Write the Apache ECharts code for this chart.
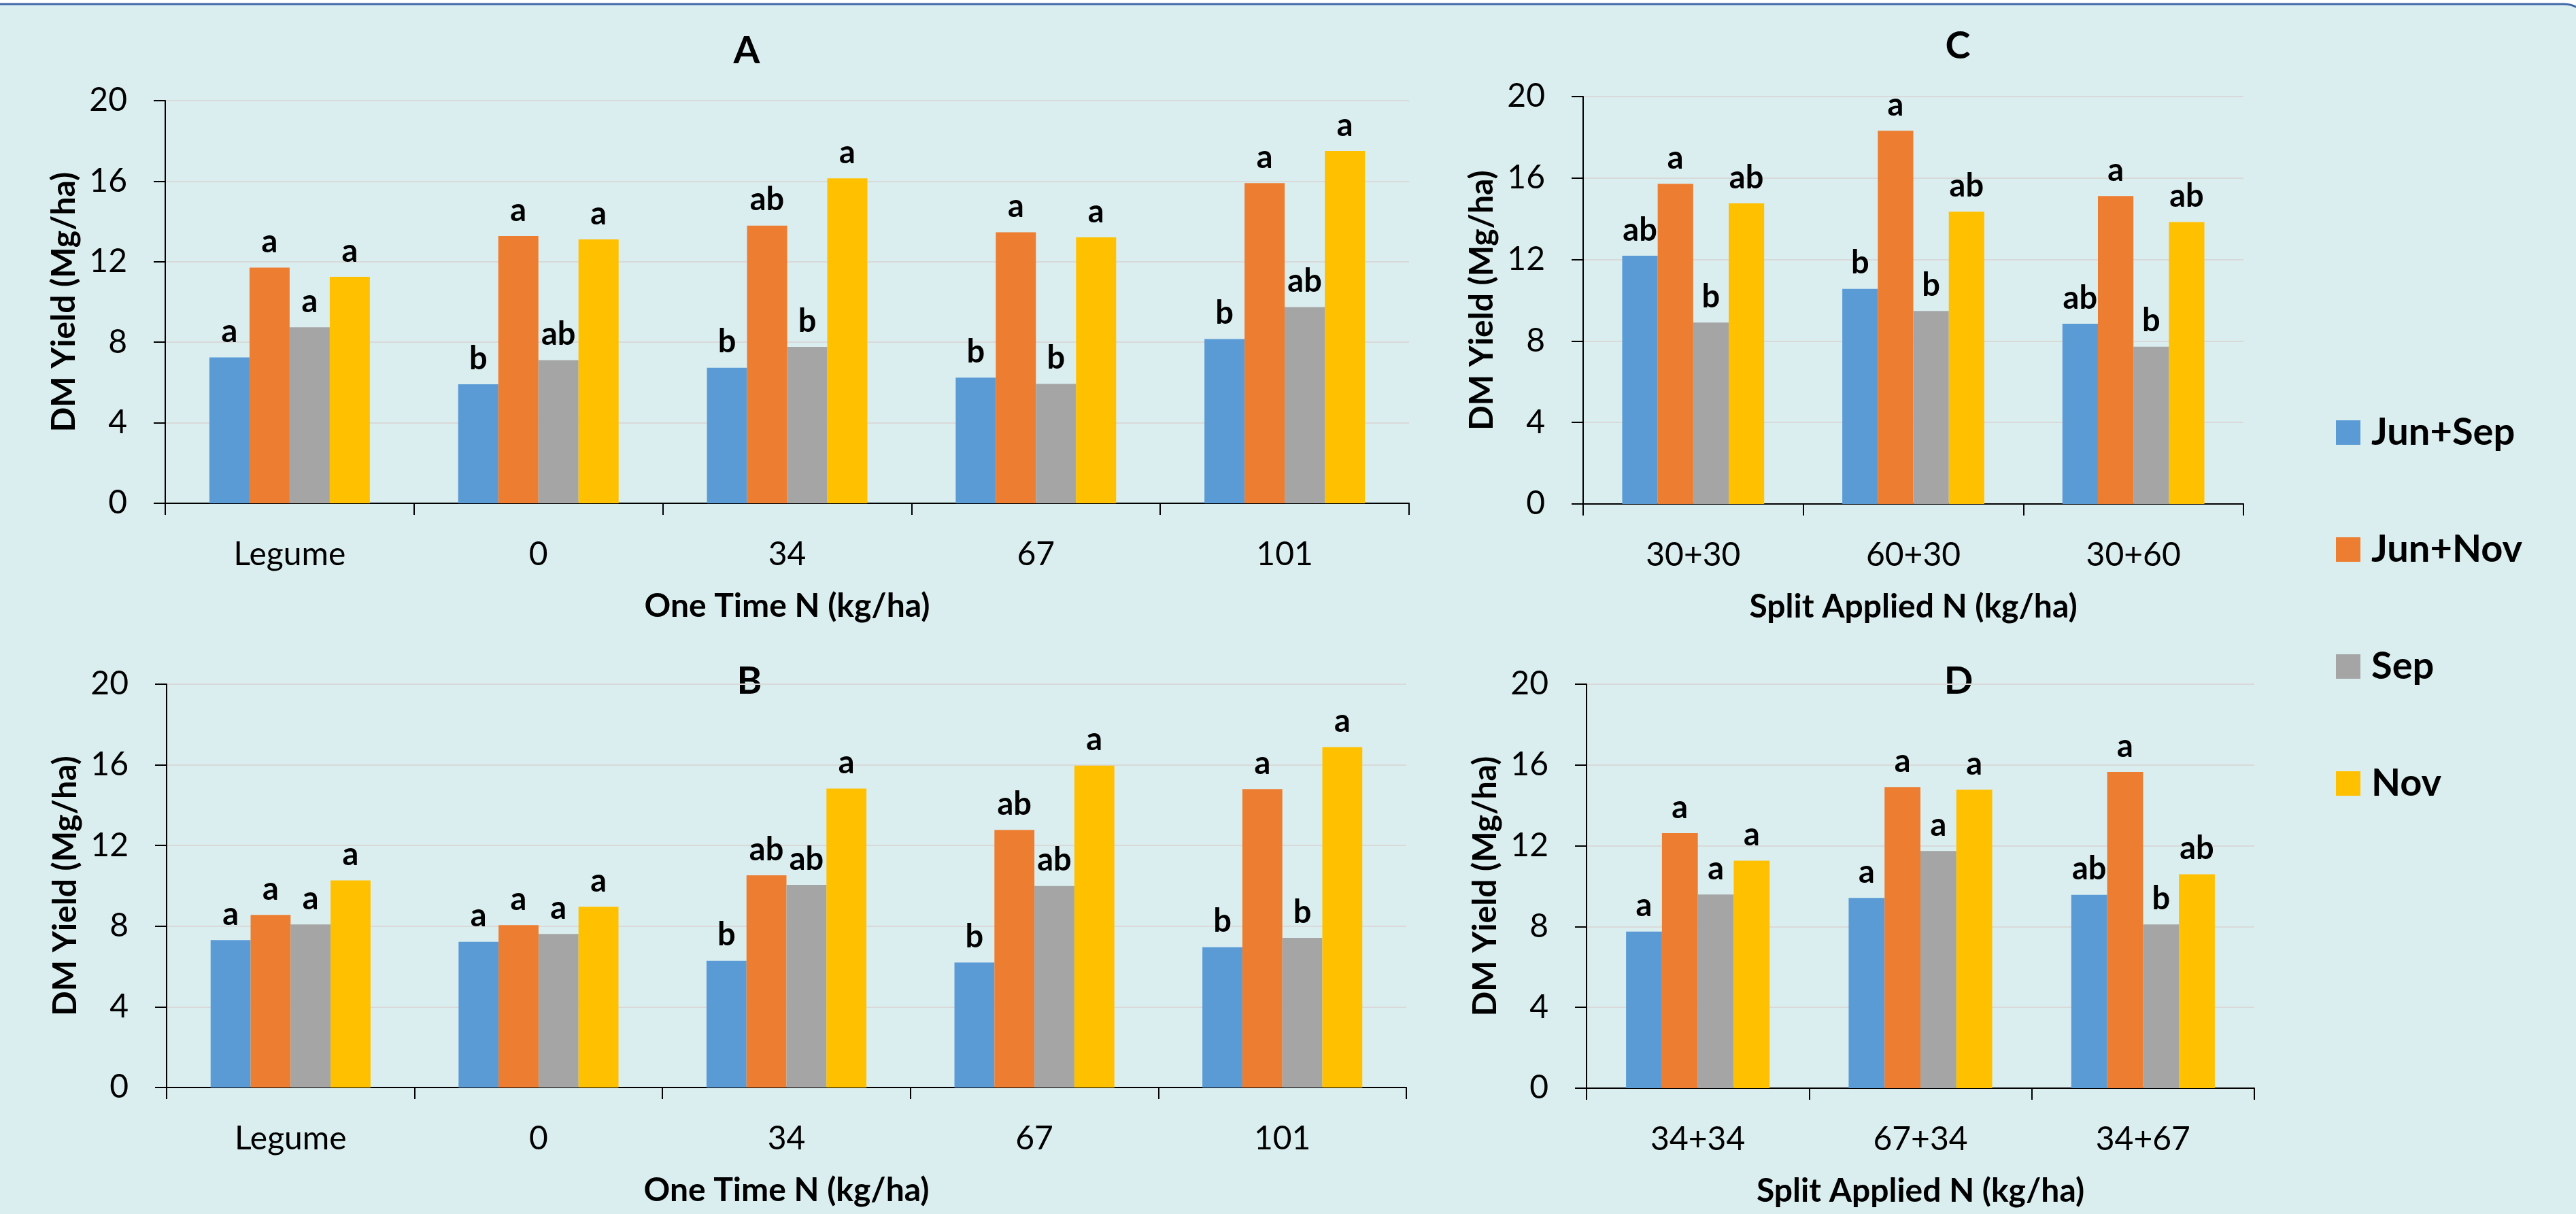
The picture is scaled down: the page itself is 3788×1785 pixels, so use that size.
<!DOCTYPE html>
<html>
<head>
<meta charset="utf-8">
<script src="https://cdn.jsdelivr.net/npm/echarts@6/dist/echarts.min.js"></script>
<style>
  html, body { margin: 0; padding: 0; background: #ffffff; }
  #chart { width: 3788px; height: 1785px; }
</style>
</head>
<body>
<div id="chart"></div>
<script>
// ---------- DATA ----------
const seriesNames = ['Jun+Sep', 'Jun+Nov', 'Sep', 'Nov'];
const seriesColors = ['#5B9BD5', '#ED7D31', '#A5A5A5', '#FFC000'];
const yTicks = [0, 4, 8, 12, 16, 20];

// Panel A : One Time N
const catA = ['Legume', '0', '34', '67', '101'];
const A_JunSep = [7.25, 5.91, 6.73, 6.24, 8.16];
const A_JunNov = [11.71, 13.28, 13.79, 13.46, 15.90];
const A_Sep    = [8.74, 7.11, 7.77, 5.93, 9.75];
const A_Nov    = [11.25, 13.11, 16.14, 13.21, 17.50];
const A_L_JunSep = ['a', 'b', 'b', 'b', 'b'];
const A_L_JunNov = ['a', 'a', 'ab', 'a', 'a'];
const A_L_Sep    = ['a', 'ab', 'b', 'b', 'ab'];
const A_L_Nov    = ['a', 'a', 'a', 'a', 'a'];

// Panel B : One Time N
const catB = ['Legume', '0', '34', '67', '101'];
const B_JunSep = [7.31, 7.23, 6.28, 6.20, 6.96];
const B_JunNov = [8.56, 8.05, 10.52, 12.77, 14.80];
const B_Sep    = [8.09, 7.61, 10.05, 9.99, 7.42];
const B_Nov    = [10.27, 8.96, 14.82, 15.96, 16.88];
const B_L_JunSep = ['a', 'a', 'b', 'b', 'b'];
const B_L_JunNov = ['a', 'a', 'ab', 'ab', 'a'];
const B_L_Sep    = ['a', 'a', 'ab', 'ab', 'b'];
const B_L_Nov    = ['a', 'a', 'a', 'a', 'a'];

// Panel C : Split Applied N
const catC = ['30+30', '60+30', '30+60'];
const C_JunSep = [12.19, 10.56, 8.85];
const C_JunNov = [15.72, 18.32, 15.12];
const C_Sep    = [8.91, 9.47, 7.72];
const C_Nov    = [14.76, 14.35, 13.84];
const C_L_JunSep = ['ab', 'b', 'ab'];
const C_L_JunNov = ['a', 'a', 'a'];
const C_L_Sep    = ['b', 'b', 'b'];
const C_L_Nov    = ['ab', 'ab', 'ab'];

// Panel D : Split Applied N
const catD = ['34+34', '67+34', '34+67'];
const D_JunSep = [7.75, 9.42, 9.57];
const D_JunNov = [12.63, 14.91, 15.66];
const D_Sep    = [9.59, 11.74, 8.11];
const D_Nov    = [11.26, 14.78, 10.59];
const D_L_JunSep = ['a', 'a', 'ab'];
const D_L_JunNov = ['a', 'a', 'a'];
const D_L_Sep    = ['a', 'a', 'b'];
const D_L_Nov    = ['a', 'a', 'ab'];

const panelTitles = ['A', 'B', 'C', 'D'];
const xNames = ['One Time N (kg/ha)', 'One Time N (kg/ha)', 'Split Applied N (kg/ha)', 'Split Applied N (kg/ha)'];
const yName = 'DM Yield (Mg/ha)';

// ---------- BUILD ----------
const FONT = 'Lato';
const panels = [
  { cats: catA, vals: [A_JunSep, A_JunNov, A_Sep, A_Nov], labs: [A_L_JunSep, A_L_JunNov, A_L_Sep, A_L_Nov],
    grid: { left: 243, top: 148, width: 1829, height: 592 }, title: [1098, 75] },
  { cats: catB, vals: [B_JunSep, B_JunNov, B_Sep, B_Nov], labs: [B_L_JunSep, B_L_JunNov, B_L_Sep, B_L_Nov],
    grid: { left: 245, top: 1006, width: 1823, height: 593 }, title: [1102, 1002] },
  { cats: catC, vals: [C_JunSep, C_JunNov, C_Sep, C_Nov], labs: [C_L_JunSep, C_L_JunNov, C_L_Sep, C_L_Nov],
    grid: { left: 2328, top: 142, width: 971, height: 599 }, title: [2879, 68] },
  { cats: catD, vals: [D_JunSep, D_JunNov, D_Sep, D_Nov], labs: [D_L_JunSep, D_L_JunNov, D_L_Sep, D_L_Nov],
    grid: { left: 2333, top: 1006, width: 982, height: 594 }, title: [2880, 1002] }
];

const grids = [], xAxes = [], yAxes = [], series = [], graphics = [];

graphics.push({
  type: 'rect', z: -100, silent: true,
  shape: { x: -40, y: 6, width: 3850, height: 1840, r: 40 },
  style: { fill: '#DAEEF0', stroke: '#4068A6', lineWidth: 3 }
});

panels.forEach((p, i) => {
  grids.push(Object.assign({ containLabel: false }, p.grid));
  xAxes.push({
    type: 'category', gridIndex: i, data: p.cats,
    name: xNames[i], nameLocation: 'middle', nameGap: 128,
    nameTextStyle: { fontFamily: FONT, fontSize: 48, fontWeight: 'bold', color: '#000', verticalAlign: 'top' },
    axisLine: { show: true, lineStyle: { color: '#000', width: 2 } },
    axisTick: { show: true, length: 17, lineStyle: { color: '#000', width: 2 }, alignWithLabel: false },
    axisLabel: { fontFamily: FONT, fontSize: 48, color: '#000', margin: 52 },
    splitLine: { show: false }
  });
  yAxes.push({
    type: 'value', gridIndex: i, min: yTicks[0], max: yTicks[yTicks.length - 1], interval: yTicks[1] - yTicks[0],
    name: yName, nameLocation: 'middle', nameGap: 124,
    nameTextStyle: { fontFamily: FONT, fontSize: 48, fontWeight: 'bold', color: '#000' },
    axisLine: { show: true, lineStyle: { color: '#000', width: 2 } },
    axisTick: { show: true, length: 17, lineStyle: { color: '#000', width: 2 } },
    axisLabel: { fontFamily: FONT, fontSize: 48, color: '#000', margin: 56 },
    splitLine: { show: true, lineStyle: { color: '#D9D9D9', width: 2 } }
  });
  seriesNames.forEach((nm, s) => {
    const labs = p.labs[s];
    series.push({
      type: 'bar', name: nm, xAxisIndex: i, yAxisIndex: i,
      data: p.vals[s],
      barGap: '0%', barCategoryGap: '35.5%',
      itemStyle: { color: seriesColors[s] },
      label: {
        show: true, position: 'top', distance: 14,
        fontFamily: FONT, fontSize: 47, fontWeight: 'bold', color: '#000',
        formatter: (d) => labs[d.dataIndex]
      }
    });
  });
  graphics.push({
    type: 'text', x: p.title[0], y: p.title[1], silent: true,
    style: { text: panelTitles[i], fontFamily: FONT, fontSize: 56, fontWeight: 'bold', fill: '#000',
             textAlign: 'center', textVerticalAlign: 'middle' }
  });
});

const option = {
  backgroundColor: '#ffffff',
  animation: false,
  legend: {
    data: seriesNames, orient: 'vertical', left: 3435, top: 606,
    itemWidth: 36, itemHeight: 36, itemGap: 112, padding: 0, icon: 'rect',
    textStyle: { fontFamily: FONT, fontSize: 56, fontWeight: 'bold', color: '#000', lineHeight: 60, padding: [0, 0, 0, 11] }
  },
  grid: grids, xAxis: xAxes, yAxis: yAxes, series: series,
  graphic: graphics
};

const chart = echarts.init(document.getElementById('chart'), null, { renderer: 'canvas' });
chart.setOption(option);
</script>
</body>
</html>
